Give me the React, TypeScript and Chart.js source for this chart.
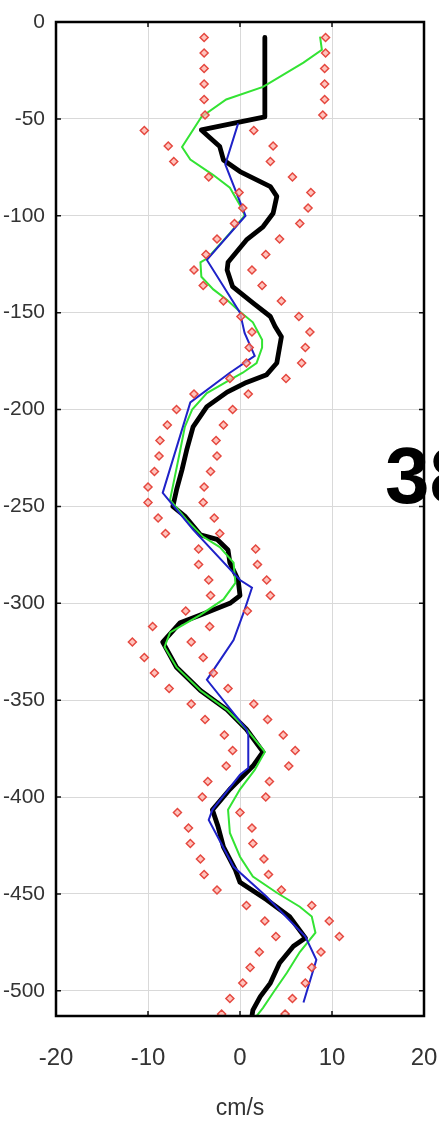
import React, { useEffect, useRef } from "react";
import { Chart, registerables } from "chart.js";

Chart.register(...registerables);

const xTickValues = [-20, -10, 0, 10, 20];
const yTickValues = [0, -50, -100, -150, -200, -250, -300, -350, -400, -450, -500];
const xTitle = "cm/s";
const panelLabel = "38";

const diamondDepths = [
  -8, -16, -24, -32, -40, -48, -56, -64, -72, -80, -88, -96, -104, -112, -120, -128,
  -136, -144, -152, -160, -168, -176, -184, -192, -200, -208, -216, -224, -232, -240, -248, -256,
  -264, -272, -280, -288, -296, -304, -312, -320, -328, -336, -344, -352, -360, -368, -376, -384,
  -392, -400, -408, -416, -424, -432, -440, -448, -456, -464, -472, -480, -488, -496, -504, -512,
];
const diamondLeft = [
  -3.9, -3.9, -3.9, -3.9, -3.9, -3.8, -10.4, -7.8, -7.2, -3.4, -0.1, 0.3, -0.6, -2.5, -3.7, -5.0,
  -4.0, -1.8, 0.1, 1.3, 1.0, 0.7, -1.1, -5.0, -6.9, -7.9, -8.7, -8.8, -9.3, -10.0, -10.0, -8.9,
  -8.1, -4.5, -4.5, -3.4, -3.2, -5.9, -9.5, -11.7, -10.4, -9.3, -7.7, -5.3, -3.8, -1.7, -0.8, -1.5,
  -3.5, -4.1, -6.8, -5.6, -5.4, -4.3, -3.9, -2.5, 0.7, 2.7, 3.9, 2.1, 1.1, 0.3, -1.1, -2.0,
];
const diamondRight = [
  9.3, 9.3, 9.2, 9.2, 9.2, 9.0, 1.5, 3.6, 3.3, 5.7, 7.7, 7.4, 6.5, 4.3, 2.8, 1.3,
  2.4, 4.5, 6.4, 7.6, 7.1, 6.7, 5.0, 0.9, -0.8, -1.8, -2.6, -2.5, -3.2, -3.9, -4.0, -2.8,
  -2.2, 1.7, 1.9, 2.9, 3.3, 0.8, -3.3, -5.3, -4.0, -2.9, -1.3, 1.5, 3.0, 4.7, 6.0, 5.3,
  3.2, 2.8, 0.0, 1.3, 1.4, 2.6, 3.1, 4.5, 7.8, 9.7, 10.8, 8.8, 7.8, 7.1, 5.7, 4.9,
];

const blackDepths = [
  -8, -49, -55.7, -58.3, -64.3, -71.2, -77.2, -85, -90, -98.7, -105.7, -112.5, -124, -128, -136.6, -145,
  -152, -157, -162.5, -176, -182, -186, -191, -198.5, -209, -221, -231, -241.5, -250, -255, -264.7, -267,
  -272.5, -279, -288, -296, -300, -306, -310, -320, -333, -345, -355, -365, -376.7, -384, -396, -406.6,
  -415, -425.7, -437.6, -444, -453, -461.8, -472.7, -477, -485.6, -496, -503, -510, -513,
];
const blackValues = [
  2.7, 2.7, -4.2, -3.6, -2.2, -1.8, 0.0, 3.3, 4.0, 3.6, 2.5, 0.7, -1.3, -1.4, -0.8, 1.4,
  3.3, 3.8, 4.5, 4.0, 2.9, 0.7, -1.4, -3.6, -5.1, -5.8, -6.3, -6.9, -7.3, -6.0, -4.3, -2.5,
  -1.3, -1.1, -0.2, 0.0, -1.1, -4.3, -6.5, -8.4, -6.9, -4.3, -1.4, 0.7, 2.5, 1.4, -1.1, -3.0,
  -2.4, -1.8, -0.5, 0.0, 2.9, 5.4, 7.1, 5.8, 4.3, 3.3, 2.2, 1.4, 1.3,
];

const greenDepths = [
  -7.6, -14.4, -21, -33.5, -40, -49, -64.5, -71, -79, -85.5, -97, -100, -109, -121.8, -124, -131.5,
  -138, -143.5, -149.5, -155, -164, -168, -176, -181, -184.7, -191.5, -200, -209, -221, -235, -246.6, -257,
  -265.7, -271, -279, -289.5, -298, -306, -315, -322.5, -333, -345, -355, -365, -376.7, -386, -396, -406.6,
  -418.5, -430.8, -441, -449.4, -456.6, -461.7, -470, -480, -490.7, -501, -508.8, -513,
];
const greenValues = [
  8.7, 8.9, 6.9, 2.5, -1.5, -4.2, -6.3, -5.4, -2.9, -1.1, 0.3, 0.5, -1.1, -3.5, -4.3, -4.2,
  -2.9, -1.4, 0.0, 1.4, 2.4, 2.4, 1.8, 0.3, -1.1, -3.6, -5.2, -6.0, -6.5, -7.1, -7.6, -5.8,
  -4.0, -2.2, -0.7, -0.5, -1.8, -4.3, -7.6, -8.2, -6.9, -4.3, -1.4, 0.7, 2.7, 1.6, 0.0, -1.3,
  -1.1, 0.0, 1.4, 4.0, 6.5, 7.8, 8.2, 6.5, 5.1, 3.6, 2.5, 1.8,
];

const blueDepths = [
  -52.3, -73.5, -100, -122.8, -150, -160.5, -172.3, -181, -196.3, -243, -262, -288, -292, -303.4, -319, -339.5,
  -365, -368, -385, -388.5, -406.6, -411.8, -436, -451.5, -472, -484, -506,
];
const blueValues = [
  -0.2, -1.6, 0.6, -3.6, 0.0, 0.5, 1.6, -1.1, -5.4, -8.4, -5.1, 0.0, 1.3, 0.5, -0.7, -3.6,
  0.7, 0.9, 0.9, 0.0, -3.0, -3.4, -0.7, 2.9, 7.1, 8.3, 6.9,
];

const pts = (xs: number[], ys: number[]) => xs.map((x, i) => ({ x, y: ys[i] }));

const labelFont = "'Liberation Sans', Arial, sans-serif";

const framePlugin = {
  id: "frame",
  afterDatasetsDraw(chart: any) {
    const { ctx, chartArea: a, scales } = chart;
    ctx.save();
    ctx.strokeStyle = "#111";
    ctx.lineWidth = 1.5;
    ctx.beginPath();
    for (const v of xTickValues) {
      const px = scales.x.getPixelForValue(v);
      ctx.moveTo(px, a.top);
      ctx.lineTo(px, a.top + 5);
      ctx.moveTo(px, a.bottom);
      ctx.lineTo(px, a.bottom - 5);
    }
    for (const v of yTickValues) {
      const py = scales.y.getPixelForValue(v);
      ctx.moveTo(a.left, py);
      ctx.lineTo(a.left + 5, py);
      ctx.moveTo(a.right, py);
      ctx.lineTo(a.right - 5, py);
    }
    ctx.stroke();
    ctx.lineWidth = 2.5;
    ctx.strokeStyle = "#000";
    ctx.strokeRect(a.left, a.top, a.right - a.left, a.bottom - a.top);
    ctx.restore();
  },
};

export default function App() {
  const ref = useRef<HTMLCanvasElement>(null);

  useEffect(() => {
    document.body.style.margin = "0";
    const diamondStyle = {
      pointStyle: "rectRot",
      pointRadius: 4,
      borderWidth: 1.5,
      borderColor: "#e5483f",
      backgroundColor: "rgba(255,175,165,0.75)",
      showLine: false,
    };
    const chart = new Chart(ref.current as HTMLCanvasElement, {
      type: "scatter",
      data: {
        datasets: [
          { label: "lower", data: pts(diamondLeft, diamondDepths), ...diamondStyle },
          { label: "upper", data: pts(diamondRight, diamondDepths), ...diamondStyle },
          {
            label: "blue",
            data: pts(blueValues, blueDepths),
            showLine: true,
            borderColor: "#1f22c8",
            borderWidth: 2,
            pointRadius: 0,
          },
          {
            label: "green",
            data: pts(greenValues, greenDepths),
            showLine: true,
            borderColor: "#33e333",
            borderWidth: 2,
            pointRadius: 0,
          },
          {
            label: "black",
            data: pts(blackValues, blackDepths),
            showLine: true,
            borderColor: "#000",
            borderWidth: 4.8,
            pointRadius: 0,
            borderJoinStyle: "round",
          },
        ],
      },
      options: {
        responsive: false,
        animation: false,
        layout: { padding: { top: 22, right: 15, left: 0, bottom: 0 }, autoPadding: false },
        plugins: { legend: { display: false }, tooltip: { enabled: false }, title: { display: false } },
        scales: {
          x: {
            type: "linear",
            min: -20,
            max: 20,
            afterBuildTicks: (s: any) => {
              s.ticks = xTickValues.map((v) => ({ value: v }));
            },
            afterFit: (s: any) => {
              s.height = 109;
              s.paddingLeft = 0;
              s.paddingRight = 0;
            },
            grid: { color: "#d9d9d9", lineWidth: 1, drawTicks: false },
            border: { display: false },
            ticks: {
              padding: 28,
              color: "#333",
              font: { family: labelFont, size: 24 },
              callback: (v: any) => String(v),
            },
            title: {
              display: true,
              text: xTitle,
              color: "#333",
              font: { family: labelFont, size: 23 },
              padding: { top: 0, bottom: 3 },
            },
          },
          y: {
            type: "linear",
            min: -513,
            max: 0,
            afterBuildTicks: (s: any) => {
              s.ticks = yTickValues.map((v) => ({ value: v }));
            },
            afterFit: (s: any) => {
              s.width = 56;
              s.paddingTop = 0;
              s.paddingBottom = 0;
            },
            grid: { color: "#d9d9d9", lineWidth: 1, drawTicks: false },
            border: { display: false },
            ticks: {
              padding: 11,
              color: "#333",
              font: { family: labelFont, size: 21 },
              callback: (v: any) => String(v),
            },
          },
        },
      },
      plugins: [framePlugin],
    } as any);
    return () => chart.destroy();
  }, []);

  return (
    <div
      style={{
        position: "absolute",
        left: 0,
        top: 0,
        width: 439,
        height: 1125,
        overflow: "hidden",
        background: "#fff",
      }}
    >
      <canvas ref={ref} width={439} height={1125} style={{ display: "block" }} />
      <div
        style={{
          position: "absolute",
          left: 385,
          top: 426,
          font: "bold 80px 'Liberation Sans', Arial, sans-serif",
          color: "#000",
          lineHeight: "100px",
          whiteSpace: "nowrap",
        }}
      >
        {panelLabel}
      </div>
    </div>
  );
}
